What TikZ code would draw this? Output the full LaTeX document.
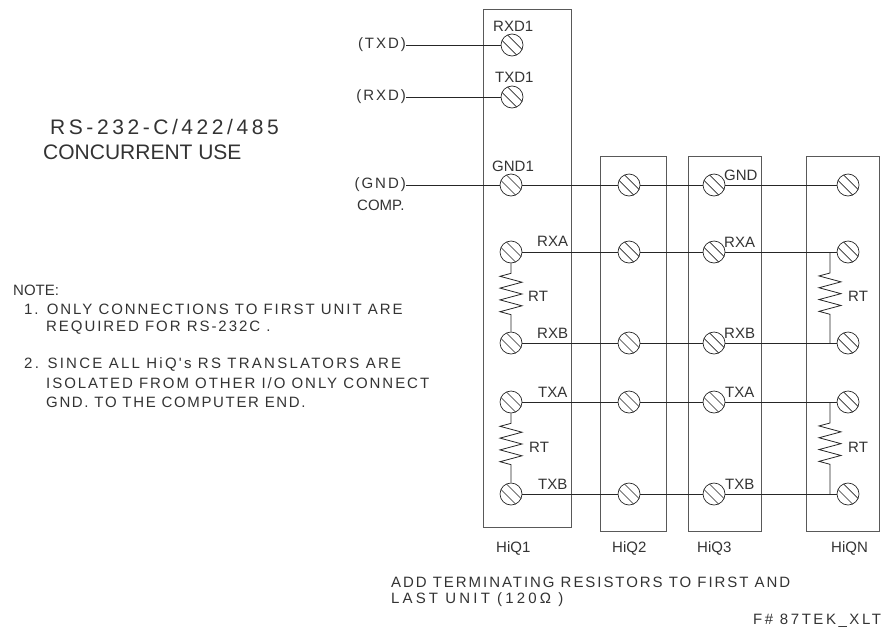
\documentclass[tikz,border=0pt]{standalone}
\usepackage{fontspec}
\usepackage{tikz}
\usetikzlibrary{decorations.pathmorphing}
\newfontfamily\cadfont[LetterSpace=13]{Liberation Sans}
\newfontfamily\cadpin{Liberation Sans}
\newfontfamily\cadwide[LetterSpace=17]{Liberation Sans}

\begin{document}
\begin{tikzpicture}[
                x=1pt, y=-1pt,
                wire/.style={draw=black!85, line width=0.8pt},
                unit/.style={rectangle, draw=black!65, line width=0.9pt, inner sep=0pt},
                screw/.style={circle, draw=black!85, line width=0.7pt, minimum size=22pt, inner sep=0pt,
                    path picture={
                        \draw[black!85, line width=0.7pt] ([xshift=-7pt,yshift=12.5pt]path picture bounding box.center) -- ([xshift=12.5pt,yshift=-7pt]path picture bounding box.center);
                        \draw[black!85, line width=0.7pt] ([xshift=-12.5pt,yshift=7pt]path picture bounding box.center) -- ([xshift=7pt,yshift=-12.5pt]path picture bounding box.center);
                    }},
                resistor/.style 2 args={draw=black!85, line width=0.8pt, decorate,
                    decoration={zigzag, mirror, segment length=11.8pt, amplitude=11pt, pre length=#1, post length=#2}},
                txt/.style={font=\cadfont\fontsize{15}{15}\selectfont, text=black!80, inner sep=0pt, anchor=west},
                pin/.style={font=\cadpin\fontsize{15}{15}\selectfont, text=black!80, inner sep=0pt, anchor=west},
                bigtxt/.style={font=\cadwide\fontsize{21}{21}\selectfont, text=black!80, inner sep=0pt, anchor=west}
            ]
                \useasboundingbox (0,0) rectangle (885,632);

                % units
                \node[unit, minimum width=88pt, minimum height=518pt] (hiq1) at (527,268) {};
                \node[unit, minimum width=66pt, minimum height=375pt] (hiq2) at (633,343.5) {};
                \node[unit, minimum width=73pt, minimum height=375pt] (hiq3) at (724.5,343.5) {};
                \node[unit, minimum width=73pt, minimum height=375pt] (hiqn) at (842.5,343.5) {};

                % terminals
                \node[screw] (rxd1) at (512,45) {};
                \node[screw] (txd1) at (512,97) {};
                \node[screw] (gnd1) at (511,185) {};
                \node[screw] (rxa1) at (511,252) {};
                \node[screw] (rxb1) at (511,343) {};
                \node[screw] (txa1) at (511,402) {};
                \node[screw] (txb1) at (511,494) {};
                \node[screw] (gnd2) at (629,185) {};
                \node[screw] (rxa2) at (629,252) {};
                \node[screw] (rxb2) at (629,343) {};
                \node[screw] (txa2) at (629,402) {};
                \node[screw] (txb2) at (629,494) {};
                \node[screw] (gnd3) at (714,185) {};
                \node[screw] (rxa3) at (714,252) {};
                \node[screw] (rxb3) at (714,343) {};
                \node[screw] (txa3) at (714,402) {};
                \node[screw] (txb3) at (714,494) {};
                \node[screw] (gndn) at (848,185) {};
                \node[screw] (rxan) at (848,252) {};
                \node[screw] (rxbn) at (848,343) {};
                \node[screw] (txan) at (848,402) {};
                \node[screw] (txbn) at (848,494) {};

                % computer side
                \node[txt, anchor=east] (txd) at (406,45) {(TXD)};
                \node[txt, anchor=east] (rxd) at (406,97) {(RXD)};
                \node[txt, anchor=east] (gnd) at (406,185) {(GND)};
                \node[pin] (comp) at (357,205) {COMP.};

                \draw[wire] (txd) -- (rxd1);
                \draw[wire] (rxd) -- (txd1);
                \draw[wire] (gnd) -- (gnd1);

                % bus
                \draw[wire] (gnd1) -- (gnd2);
                \draw[wire] (gnd2) -- (gnd3);
                \draw[wire] (gnd3) -- (gndn);
                \draw[wire] (rxa1) -- (rxa2);
                \draw[wire] (rxa2) -- (rxa3);
                \draw[wire] (rxa3) -- (rxan);
                \draw[wire] (rxb1) -- (rxb2);
                \draw[wire] (rxb2) -- (rxb3);
                \draw[wire] (rxb3) -- (rxbn);
                \draw[wire] (txa1) -- (txa2);
                \draw[wire] (txa2) -- (txa3);
                \draw[wire] (txa3) -- (txan);
                \draw[wire] (txb1) -- (txb2);
                \draw[wire] (txb2) -- (txb3);
                \draw[wire] (txb3) -- (txbn);

                % terminating resistors
                \coordinate (rxatap) at (830,252);
                \coordinate (rxbtap) at (830,343);
                \coordinate (txatap) at (830,402);
                \coordinate (txbtap) at (830,494);
                \draw[resistor={10pt}{17pt}] (rxa1) -- (rxb1);
                \draw[resistor={10pt}{17pt}] (txa1) -- (txb1);
                \draw[resistor={21pt}{28pt}] (rxatap) -- (rxbtap);
                \draw[resistor={21pt}{28pt}] (txatap) -- (txbtap);

                % terminal labels
                \node[pin] (lrxd1) at (493,26) {RXD1};
                \node[pin] (ltxd1) at (495,77) {TXD1};
                \node[pin] (lgnd1) at (492,166) {GND1};
                \node[pin] (lrxa1) at (537,241) {RXA};
                \node[pin] (lrxb1) at (537,333) {RXB};
                \node[pin] (ltxa1) at (538,392) {TXA};
                \node[pin] (ltxb1) at (538,484) {TXB};
                \node[pin] (lgnd3) at (724,175) {GND};
                \node[pin] (lrxa3) at (724,242) {RXA};
                \node[pin] (lrxb3) at (724,333) {RXB};
                \node[pin] (ltxa3) at (725,392) {TXA};
                \node[pin] (ltxb3) at (725,484) {TXB};
                \node[pin] (lrt1) at (528,296) {RT};
                \node[pin] (lrt2) at (529,447) {RT};
                \node[pin] (lrt3) at (848,296) {RT};
                \node[pin] (lrt4) at (848,447) {RT};

                % unit names
                \node[pin] (name1) at (496,548) {HiQ1};
                \node[pin] (name2) at (612,548) {HiQ2};
                \node[pin] (name3) at (697,548) {HiQ3};
                \node[pin] (namen) at (831,548) {HiQN};

                % notes
                \node[bigtxt] (title1) at (50,127) {RS-232-C/422/485};
                \node[pin, font=\cadpin\fontsize{21}{21}\selectfont] (title2) at (43,152) {CONCURRENT USE};
                \node[pin] (note) at (13,290) {NOTE:};
                \node[txt] (note1a) at (24,309) {1. ONLY CONNECTIONS TO FIRST UNIT ARE};
                \node[txt] (note1b) at (46,328) {REQUIRED FOR RS-232C .};
                \node[txt] (note2a) at (24,364) {\addfontfeature{LetterSpace=15}2. SINCE ALL HiQ's RS TRANSLATORS ARE};
                \node[txt] (note2b) at (46,383) {ISOLATED FROM OTHER I/O ONLY CONNECT};
                \node[txt] (note2c) at (46,402) {\addfontfeature{LetterSpace=11}GND. TO THE COMPUTER END.};
                \node[txt] (add1) at (391,582) {ADD TERMINATING RESISTORS TO FIRST AND};
                \node[txt] (add2) at (391,600) {\addfontfeature{LetterSpace=21}LAST UNIT (120Ω )};
                \node[txt] (fileno) at (753,621) {\addfontfeature{LetterSpace=17}F\# 87TEK\_XLT};
            \end{tikzpicture}
\end{document}
